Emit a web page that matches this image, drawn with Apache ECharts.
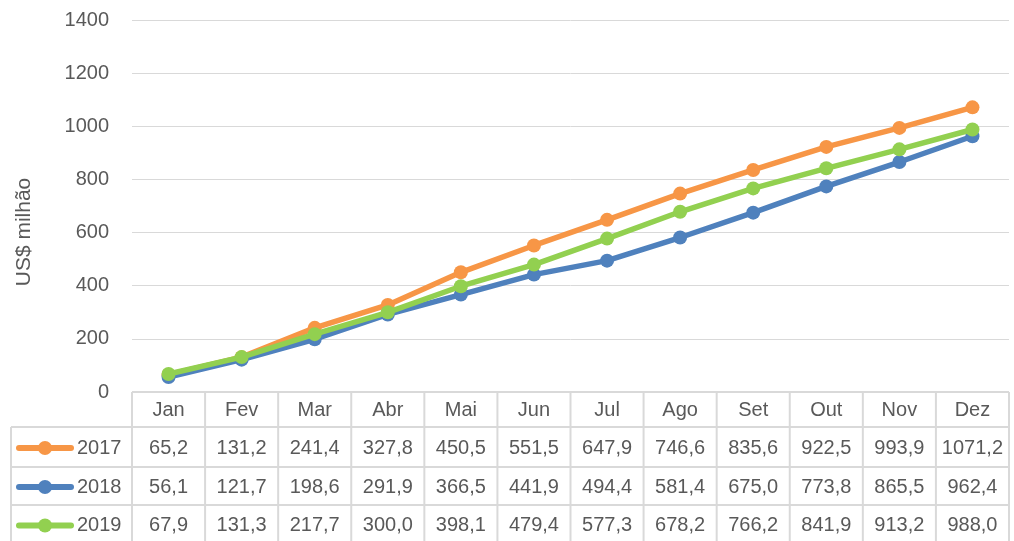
<!DOCTYPE html>
<html>
<head>
    <meta charset="utf-8">
    <title>US$ milhão</title>
    <script src="https://cdn.jsdelivr.net/npm/echarts@6/dist/echarts.min.js"></script>
    <style>
        html, body { margin: 0; padding: 0; background: #fff; }
        #chart { width: 1014px; height: 541px; }
    </style>
</head>
<body>
<div id="chart"></div>
<script type="text/javascript">
    // dados
    var meses = ['Jan', 'Fev', 'Mar', 'Abr', 'Mai', 'Jun', 'Jul', 'Ago', 'Set', 'Out', 'Nov', 'Dez'];
    var anos = ['2017', '2018', '2019'];
    var v2017 = [65.2, 131.2, 241.4, 327.8, 450.5, 551.5, 647.9, 746.6, 835.6, 922.5, 993.9, 1071.2];
    var v2018 = [56.1, 121.7, 198.6, 291.9, 366.5, 441.9, 494.4, 581.4, 675.0, 773.8, 865.5, 962.4];
    var v2019 = [67.9, 131.3, 217.7, 300.0, 398.1, 479.4, 577.3, 678.2, 766.2, 841.9, 913.2, 988.0];
    var cores = ['#F79646', '#4F81BD', '#92D050'];
    var valores = [v2017, v2018, v2019];

    var fonte = '"Liberation Sans", Arial, sans-serif';
    var corTexto = '#595959';
    var corGrade = '#D9D9D9';

    var myChart = echarts.init(document.getElementById('chart'));

    var series = anos.map(function (ano, i) {
        return {
            name: ano,
            type: 'line',
            data: valores[i],
            symbol: 'circle',
            symbolSize: 14,
            lineStyle: { width: 5.5, color: cores[i] },
            itemStyle: { color: cores[i] },
            z: 2 + i,
            animation: false
        };
    });

    myChart.setOption({
        animation: false,
        grid: { left: 132, right: 5, top: 20, bottom: 149 },
        xAxis: {
            type: 'category',
            data: meses,
            boundaryGap: true,
            axisLine: { show: false },
            axisTick: { show: false },
            axisLabel: { show: false }
        },
        yAxis: {
            type: 'value',
            min: 0,
            max: 1400,
            interval: 200,
            axisLine: { show: false },
            axisTick: { show: false },
            axisLabel: {
                fontFamily: fonte, fontSize: 20, color: corTexto, margin: 23,
                formatter: function (v) { return String(v); }
            },
            splitLine: { lineStyle: { color: corGrade, width: 1 } }
        },
        series: series
    });

    // tabela de dados abaixo do gráfico
    var x0 = myChart.convertToPixel({ xAxisIndex: 0 }, 0);
    var x1 = myChart.convertToPixel({ xAxisIndex: 0 }, 1);
    var larg = x1 - x0;
    var esq = x0 - larg / 2;
    var dir = esq + larg * meses.length;
    var topo = myChart.convertToPixel({ yAxisIndex: 0 }, 0);
    var linhas = [topo, topo + 35, topo + 75, topo + 113, topo + 152];
    var legEsq = 11;

    var g = [];
    var linha = function (xa, ya, xb, yb) {
        g.push({
            type: 'line', silent: true,
            shape: { x1: xa, y1: ya, x2: xb, y2: yb },
            style: { stroke: corGrade, lineWidth: 2 }
        });
    };
    var texto = function (t, x, y, align) {
        g.push({
            type: 'text', silent: true, x: x, y: y,
            style: { text: t, fill: corTexto, fontFamily: fonte, fontSize: 20, align: align || 'center', verticalAlign: 'middle' }
        });
    };

    // linhas horizontais
    linha(esq, linhas[0], dir, linhas[0]);
    for (var r = 1; r < linhas.length; r++) {
        linha(legEsq, linhas[r], dir, linhas[r]);
    }
    // linhas verticais
    linha(legEsq, linhas[1], legEsq, linhas[4]);
    for (var c = 0; c <= meses.length; c++) {
        linha(esq + c * larg, linhas[0], esq + c * larg, linhas[4]);
    }
    // meses
    meses.forEach(function (m, i) {
        texto(m, myChart.convertToPixel({ xAxisIndex: 0 }, i), (linhas[0] + linhas[1]) / 2 + 1);
    });
    // valores e legenda
    anos.forEach(function (ano, s) {
        var yc = (linhas[s + 1] + linhas[s + 2]) / 2 + 1;
        g.push({
            type: 'line', silent: true,
            shape: { x1: 19, y1: yc, x2: 71, y2: yc },
            style: { stroke: cores[s], lineWidth: 6, lineCap: 'round' }
        });
        g.push({
            type: 'circle', silent: true,
            shape: { cx: 45, cy: yc, r: 7 },
            style: { fill: cores[s] }
        });
        texto(ano, 77, yc, 'left');
        valores[s].forEach(function (v, i) {
            texto(v.toFixed(1).replace('.', ','), myChart.convertToPixel({ xAxisIndex: 0 }, i), yc);
        });
    });
    // título do eixo
    g.push({
        type: 'text', silent: true, x: 24, y: 232, rotation: Math.PI / 2,
        style: { text: 'US$ milhão', fill: corTexto, fontFamily: fonte, fontSize: 21, align: 'center', verticalAlign: 'middle' }
    });

    myChart.setOption({ graphic: g });
</script>
</body>
</html>
